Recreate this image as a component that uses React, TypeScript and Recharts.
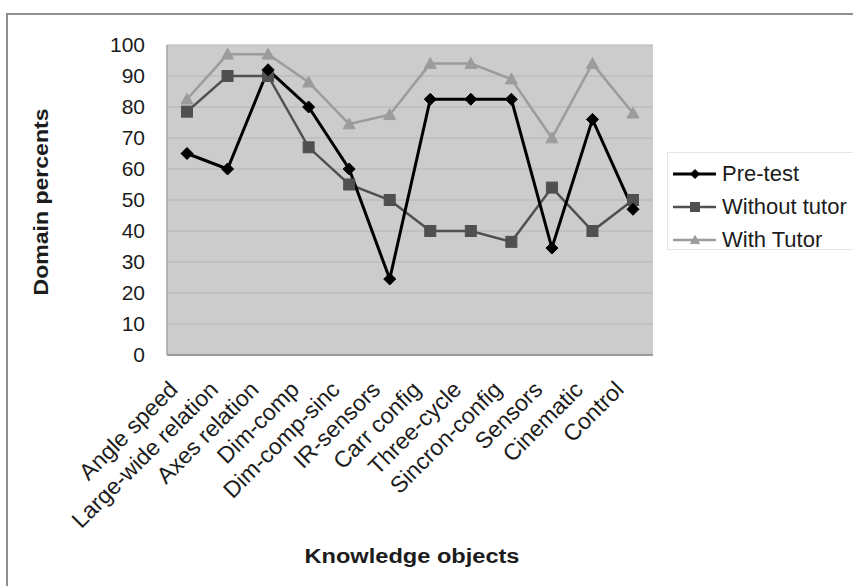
import React from 'react';
import { LineChart, Line, XAxis, YAxis, CartesianGrid, Legend, Label } from 'recharts';

// Knowledge objects on the horizontal axis
const categories = [
  'Angle speed',
  'Large-wide relation',
  'Axes relation',
  'Dim-comp',
  'Dim-comp-sinc',
  'IR-sensors',
  'Carr config',
  'Three-cycle',
  'Sincron-config',
  'Sensors',
  'Cinematic',
  'Control',
];

// Domain percents per series
const preTest = [65, 60, 92, 80, 60, 24.5, 82.5, 82.5, 82.5, 34.5, 76, 47];
const withoutTutor = [78.5, 90, 90, 67, 55, 50, 40, 40, 36.5, 54, 40, 50];
const withTutor = [82.5, 97, 97, 88, 74.5, 77.5, 94, 94, 89, 70, 94, 78];

const yTicks = [0, 10, 20, 30, 40, 50, 60, 70, 80, 90, 100];

const data = categories.map((name, i) => ({
  name,
  pre: preTest[i],
  without: withoutTutor[i],
  with: withTutor[i],
}));

const FONT = '"Liberation Sans", Arial, Helvetica, sans-serif';
const TEXT = '#1c1c1c';

type Shape = 'diamond' | 'square' | 'triangle';

const seriesDefs: { key: string; name: string; color: string; width: number; shape: Shape }[] = [
  { key: 'pre', name: 'Pre-test', color: '#000000', width: 3, shape: 'diamond' },
  { key: 'without', name: 'Without tutor', color: '#505050', width: 2.5, shape: 'square' },
  { key: 'with', name: 'With Tutor', color: '#9c9c9c', width: 2.5, shape: 'triangle' },
];

function marker(shape: Shape, cx: number, cy: number, color: string, s: number, key?: string | number) {
  if (shape === 'diamond') {
    return (
      <polygon
        key={key}
        points={`${cx},${cy - s} ${cx + s},${cy} ${cx},${cy + s} ${cx - s},${cy}`}
        fill={color}
        stroke={color}
        strokeWidth={1}
      />
    );
  }
  if (shape === 'square') {
    return <rect key={key} x={cx - s} y={cy - s} width={s * 2} height={s * 2} fill={color} stroke={color} strokeWidth={1} />;
  }
  return (
    <polygon
      key={key}
      points={`${cx},${cy - s} ${cx + s},${cy + s * 0.8} ${cx - s},${cy + s * 0.8}`}
      fill={color}
      stroke={color}
      strokeWidth={1}
    />
  );
}

const makeDot = (shape: Shape, color: string, size: number) => (props: any) => {
  const { cx, cy, index } = props;
  if (cx == null || cy == null) return <g key={index} />;
  return marker(shape, cx, cy, color, size, index);
};

const XTick = (props: any) => {
  const { x, y, payload } = props;
  return (
    <text
      transform={`translate(${x - 8},${y + 36}) rotate(-45)`}
      textAnchor="end"
      fontFamily={FONT}
      fontSize={23}
      fill={TEXT}
    >
      {payload.value}
    </text>
  );
};

const YTitle = (props: any) => {
  const { viewBox } = props;
  const cx = viewBox.x + 21;
  const cy = 202;
  return (
    <text
      transform={`translate(${cx},${cy}) rotate(-90)`}
      textAnchor="middle"
      dominantBaseline="central"
      fontFamily={FONT}
      fontWeight="bold"
      fontSize={20}
      fill={TEXT}
      textLength={187}
      lengthAdjust="spacingAndGlyphs"
    >
      Domain percents
    </text>
  );
};

const XTitle = (props: any) => {
  const { viewBox } = props;
  const cx = viewBox.x + viewBox.width / 2 + 2;
  return (
    <text
      x={cx}
      y={563}
      textAnchor="middle"
      fontFamily={FONT}
      fontWeight="bold"
      fontSize={20}
      fill={TEXT}
      textLength={215}
      lengthAdjust="spacingAndGlyphs"
    >
      Knowledge objects
    </text>
  );
};

const LegendBox = () => (
  <div
    style={{
      width: 200,
      height: 98,
      border: '1px solid #e6e6e6',
      boxSizing: 'border-box',
      fontFamily: FONT,
      fontSize: 22,
      color: TEXT,
      paddingTop: 4,
    }}
  >
    {seriesDefs.map((s) => (
      <div key={s.key} style={{ display: 'flex', alignItems: 'center', height: 33 }}>
        <svg width={54} height={20} style={{ flex: 'none' }}>
          <line x1={5} y1={10} x2={48} y2={10} stroke={s.color} strokeWidth={s.width} />
          {marker(s.shape, 27, 10, s.color, 4.5)}
        </svg>
        <span style={{ whiteSpace: 'nowrap' }}>{s.name}</span>
      </div>
    ))}
  </div>
);

export default function App() {
  const drawOrder = [...seriesDefs].reverse();
  return (
    <div style={{ position: 'relative', width: 853, height: 586, overflow: 'hidden', background: '#fff' }}>
      <style>{`body{margin:0;}`}</style>
      <div
        style={{
          position: 'absolute',
          left: 6,
          top: 13,
          width: 1000,
          height: 1000,
          borderLeft: '2px solid #8e8e8e',
          borderTop: '2px solid #8e8e8e',
        }}
      />
      <div style={{ position: 'absolute', left: 0, top: 0 }}>
        <LineChart
          width={853}
          height={586}
          data={data}
          margin={{ top: 45, right: 200, bottom: 81, left: 20 }}
        >
          <CartesianGrid
            vertical={false}
            stroke="#b4b4b4"
            strokeWidth={1.2}
            fill="#cccccc"
            fillOpacity={1}
          />
          <XAxis
            dataKey="name"
            interval={0}
            height={150}
            padding={{ left: 20, right: 20 }}
            tickSize={0}
            tickMargin={0}
            tick={<XTick />}
            axisLine={{ stroke: '#9a9a9a', strokeWidth: 2 }}
            tickLine={false}
          >
            <Label content={<XTitle />} />
          </XAxis>
          <YAxis
            domain={[0, 100]}
            ticks={yTicks}
            width={147}
            tickSize={0}
            tickMargin={22}
            axisLine={{ stroke: '#a4a4a4', strokeWidth: 1.5 }}
            tickLine={false}
            tick={{ fontFamily: FONT, fontSize: 21, fill: TEXT }}
            interval={0}
          >
            <Label content={<YTitle />} />
          </YAxis>
          <YAxis
            yAxisId="edge"
            orientation="right"
            width={0}
            tick={false}
            tickLine={false}
            axisLine={{ stroke: '#a8a8a8', strokeWidth: 2 }}
          />
          <Legend
            layout="vertical"
            align="center"
            verticalAlign="middle"
            content={<LegendBox />}
            wrapperStyle={{ left: 667, top: 152, width: 200 }}
          />
          {drawOrder.map((s) => (
            <Line
              key={s.key}
              dataKey={s.key}
              name={s.name}
              stroke={s.color}
              strokeWidth={s.width}
              dot={makeDot(s.shape, s.color, s.shape === 'square' ? 5.5 : 6)}
              activeDot={false}
              isAnimationActive={false}
            />
          ))}
        </LineChart>
      </div>
    </div>
  );
}
